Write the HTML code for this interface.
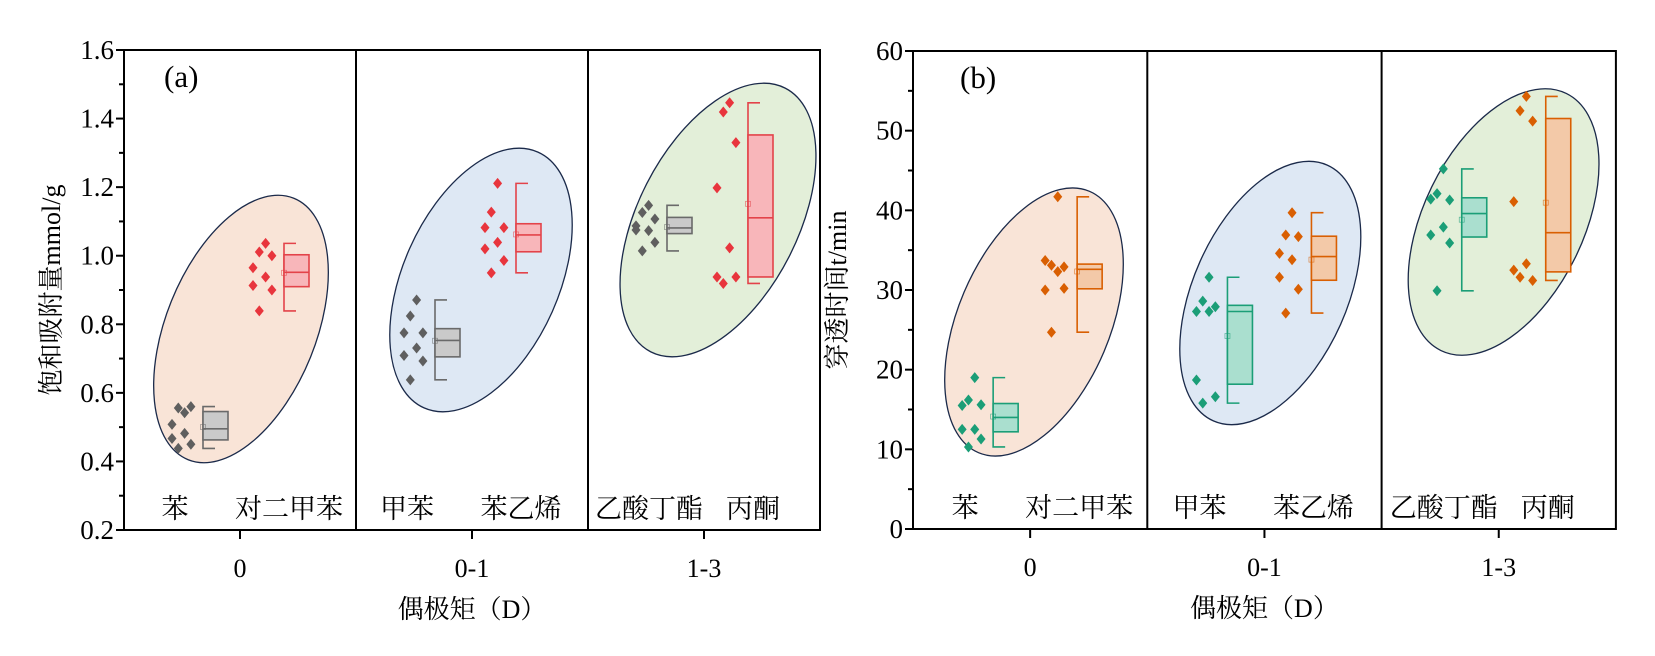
<!DOCTYPE html>
<html><head><meta charset="utf-8"><style>
html,body{margin:0;padding:0;background:#fff;}
svg{display:block;font-family:"Liberation Serif","Noto Serif CJK SC",serif;}
</style></head><body>
<svg id="c" width="1655" height="656" viewBox="0 0 1655 656"></svg>
<script>
// ---- chart (a) data ----
const catsA = ["苯","对二甲苯","甲苯","苯乙烯","乙酸丁酯","丙酮"];
const dipoleCats = ["0","0-1","1-3"];
const aBenzene = [0.542,0.556,0.56,0.508,0.482,0.467,0.45,0.438];
const aXylene = [1.036,1.011,1.0,0.965,0.938,0.913,0.90,0.839];
const aToluene = [0.871,0.824,0.775,0.775,0.731,0.709,0.693,0.638];
const aStyrene = [1.211,1.127,1.082,1.082,1.039,1.02,0.986,0.95];
const aButylAc = [1.147,1.126,1.107,1.087,1.073,1.075,1.039,1.014];
const aAcetone = [1.446,1.419,1.330,1.198,1.023,0.938,0.938,0.919];
const aTicks = [0.2,0.4,0.6,0.8,1.0,1.2,1.4,1.6];
// ---- chart (b) data ----
const bBenzene = [19.0,16.2,15.6,15.5,12.5,12.5,11.3,10.3];
const bXylene = [41.7,33.1,32.9,33.7,32.3,30.0,30.2,24.7];
const bToluene = [31.6,28.6,27.9,27.3,27.3,18.7,16.6,15.8];
const bStyrene = [39.7,36.9,36.7,34.6,33.8,31.6,30.1,27.1];
const bButylAc = [45.2,42.1,41.3,41.4,37.9,36.9,35.9,29.9];
const bAcetone = [54.3,52.5,51.2,41.1,33.3,32.5,31.2,31.6];
const bTicks = [0,10,20,30,40,50,60];
// jitter column indices (categorical)
const jit = [2,1,3,0,2,0,3,1];

const NS="http://www.w3.org/2000/svg";
const svg=document.getElementById('c');
function mk(tag,attrs,parent){const e=document.createElementNS(NS,tag);for(const k in attrs)e.setAttribute(k,attrs[k]);(parent||svg).appendChild(e);return e;}
function q(arr,p){const s=[...arr].sort((a,b)=>a-b);const i=(s.length-1)*p;const lo=Math.floor(i),hi=Math.ceil(i);return s[lo]+(s[hi]-s[lo])*(i-lo);}

function chart(cfg){
  const {x0,y0,pw,h,ymin,ymax,ticks,minorStep,groups,label,ytitle,ytx,ellipses,colL,colR,tickFmt}=cfg;
  const W=pw*3;
  const Y=v=>y0+h-(v-ymin)/(ymax-ymin)*h;
  const g=mk('g',{});
  
  
  ellipses.forEach((e,i)=>{
    const ex=x0+pw*i+e[0];
    const el=mk('ellipse',{cx:ex,cy:e[1],rx:e[2],ry:e[3],transform:`rotate(${e[4]} ${ex} ${e[1]})`,fill:e[5],stroke:'#1b2a4a','stroke-width':1.3},g);
    
    
  });
  groups.forEach((gr,k)=>{
    const panel=Math.floor(k/2), right=k%2;
    const cx=x0+pw*panel+pw/2;
    const col=right?colR:colL;
    const off=right?cfg.offR:cfg.offL;
    const vals=gr.vals;
    vals.forEach((v,i)=>{
      const px=cx+off.pts+jit[i]*6.3, py=Y(v);
      const d=mk('path',{d:`M${px} ${py-5.5}L${px+4.5} ${py}L${px} ${py+5.5}L${px-4.5} ${py}Z`,fill:col.pt},g);
      
      
    });
    const mn=Math.min(...vals),mx=Math.max(...vals),q1=q(vals,0.25),q3=q(vals,0.75),md=q(vals,0.5),mean=vals.reduce((a,b)=>a+b,0)/vals.length;
    const bx=cx+off.box, bw=25;
    const wk=mk('path',{d:`M${bx+12} ${Y(mx)}H${bx}V${Y(mn)}H${bx+12}`,fill:'none',stroke:col.line,'stroke-width':1.6},g);
    
    
    const r=mk('rect',{x:bx,y:Y(q3),width:bw,height:Y(q1)-Y(q3),fill:col.fill,stroke:col.line,'stroke-width':1.6},g);
    
    
    const m=mk('line',{x1:bx,x2:bx+bw,y1:Y(md),y2:Y(md),stroke:col.line,'stroke-width':1.6},g);
    
    
    const mm=mk('rect',{x:bx-2.5,y:Y(mean)-2.5,width:5,height:5,fill:'none',stroke:col.line,'stroke-width':0.7,opacity:0.7},g);
    
    
    const shifts=[[-65,49],[-65,49],[-55,49]];
    const tx=cx+(right?shifts[panel][1]:shifts[panel][0]);
    const t=mk('text',{x:tx,y:y0+h-12,'font-size':27,'text-anchor':'middle'},g);
    t.textContent=catsA[k];
    
    
  });
  const fr=mk('rect',{x:x0,y:y0,width:W,height:h,fill:'none',stroke:'#000','stroke-width':2},g);
  
  
  for(let i=1;i<3;i++){
    const l=mk('line',{x1:x0+pw*i,x2:x0+pw*i,y1:y0,y2:y0+h,stroke:'#000','stroke-width':2},g);
    
    
  }
  for(let v=ymin;v<=ymax+1e-9;v+=minorStep){
    const y=Y(v);
    const isMajor=ticks.some(t=>Math.abs(t-v)<1e-6);
    mk('line',{x1:x0,x2:x0-(isMajor?8:5),y1:y,y2:y,stroke:'#000','stroke-width':2},g);
  }
  ticks.forEach(v=>{
    const t=mk('text',{x:x0-10,y:Y(v)+9,'font-size':27,'text-anchor':'end'},g);
    t.textContent=tickFmt(v);
    
    
  });
  dipoleCats.forEach((c,i)=>{
    const cx=x0+pw*i+pw/2;
    mk('line',{x1:cx,x2:cx,y1:y0+h,y2:y0+h+9,stroke:'#000','stroke-width':2},g);
    const t=mk('text',{x:cx,y:y0+h+47,'font-size':26,'text-anchor':'middle'},g);
    t.textContent=c;
    
    
  });
  const xt=mk('text',{x:x0+W/2,y:y0+h+88,'font-size':26,'text-anchor':'middle'},g);
  xt.textContent='偶极矩（D）';
  
  
  const yt=mk('text',{x:ytx,y:y0+h/2,'font-size':26,'text-anchor':'middle',transform:`rotate(-90 ${ytx} ${y0+h/2})`},g);
  yt.textContent=ytitle;
  
  
  const pl=mk('text',{x:x0+cfg.labX,y:y0+37,'font-size':31},g);
  pl.textContent=label;
  
  
}

chart({name:'chart-a',x0:124,y0:50,pw:232,h:480,ymin:0.2,ymax:1.6,ticks:aTicks,minorStep:0.1,
  tickFmt:v=>v.toFixed(1),
  groups:[{vals:aBenzene},{vals:aXylene},{vals:aToluene},{vals:aStyrene},{vals:aButylAc},{vals:aAcetone}],
  label:'(a)',labX:40,ytitle:'饱和吸附量mmol/g',ytx:60,
  offL:{pts:-68,box:-37},offR:{pts:13,box:44},
  ellipses:[[117,329,141,75,-68,'#f9e4d7'],[125,280,140,78,-66,'#dee8f4'],[130,220,148,80,-63,'#e3efd9']],
  colL:{pt:'#5f5f5f',fill:'#cacaca',line:'#6a6a6a'},colR:{pt:'#e8353d',fill:'#f8b6ba',line:'#e3434a'}});

chart({name:'chart-b',x0:913,y0:51,pw:234.3,h:478,ymin:0,ymax:60,ticks:bTicks,minorStep:5,
  tickFmt:v=>String(v),
  groups:[{vals:bBenzene},{vals:bXylene},{vals:bToluene},{vals:bStyrene},{vals:bButylAc},{vals:bAcetone}],
  label:'(b)',labX:47,ytitle:'穿透时间t/min',ytx:846,
  offL:{pts:-68,box:-37},offR:{pts:15,box:47},
  ellipses:[[121,322,142,76,-67,'#f9e4d7'],[123,293,140,77,-66,'#dee8f4'],[122,222,143,80,-64,'#e3efd9']],
  colL:{pt:'#1b9e77',fill:'#aadfcf',line:'#1b9e77'},colR:{pt:'#d95f02',fill:'#f3c9a8',line:'#d95f02'}});
</script>
</body></html>
